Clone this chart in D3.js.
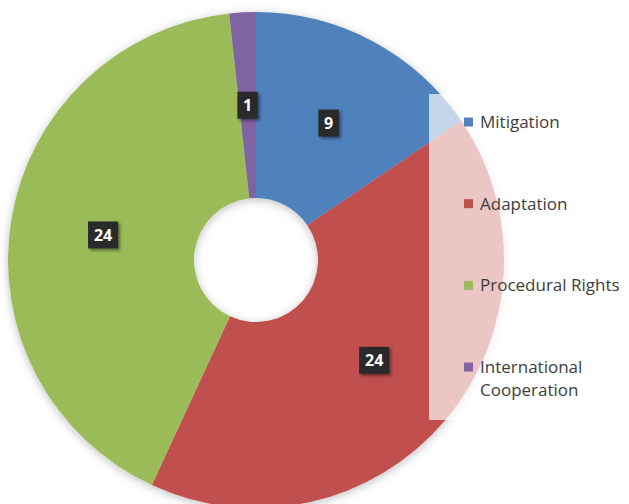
<!DOCTYPE html>
<html>
<head>
<meta charset="utf-8">
<script src="https://cdn.jsdelivr.net/npm/d3@7"></script>
<style>
  body { margin: 0; background: #fff; }
  .legend-text { font-family: "Open Sans", sans-serif; font-size: 17px; fill: #3d3d3d; }
  .label-text { font-family: "Open Sans", sans-serif; font-size: 16px; font-weight: bold; fill: #fff; }
</style>
</head>
<body>
<div id="chart-div"></div>
<script>
const categories = ["Mitigation", "Adaptation", "Procedural Rights", "International Cooperation"];
const legendLines = [["Mitigation"], ["Adaptation"], ["Procedural Rights"], ["International", "Cooperation"]];
const values = [9, 24, 24, 1];
const colors = ["#4f81bd", "#c0504d", "#9bbb59", "#8064a2"];

const svgDims = { width: 629, height: 504 };
const center = { x: 256, y: 260 };
const outerR = 248, innerR = 62;

const svg = d3.select("#chart-div")
    .append("svg")
    .attr("width", svgDims.width)
    .attr("height", svgDims.height);

// soft shadows
const defs = svg.append("defs");
const shadow = defs.append("filter").attr("id", "pie-shadow")
    .attr("x", "-10%").attr("y", "-10%").attr("width", "120%").attr("height", "120%");
shadow.append("feDropShadow").attr("dx", 0).attr("dy", 2).attr("stdDeviation", 5)
    .attr("flood-color", "#000").attr("flood-opacity", 0.25);
const lblShadow = defs.append("filter").attr("id", "lbl-shadow")
    .attr("x", "-30%").attr("y", "-30%").attr("width", "160%").attr("height", "160%");
lblShadow.append("feDropShadow").attr("dx", 2).attr("dy", 2).attr("stdDeviation", 1.5)
    .attr("flood-color", "#000").attr("flood-opacity", 0.45);

const g = svg.append("g").attr("transform", `translate(${center.x},${center.y})`);

const pie = d3.pie().sort(null).value(d => d);
const arcs = pie(values);
const arc = d3.arc().innerRadius(innerR).outerRadius(outerR);

// Slices
g.append("g").attr("filter", "url(#pie-shadow)")
    .selectAll("path").data(arcs).enter().append("path")
    .attr("d", arc)
    .attr("fill", (d, i) => colors[i]);

// Data labels on dark boxes
const labels = g.selectAll(".lbl").data(arcs).enter().append("g")
    .attr("class", "lbl")
    .attr("transform", d => `translate(${arc.centroid(d)})`);

labels.append("rect")
    .attr("x", d => -(String(d.data).length * 9.5 + 11) / 2)
    .attr("y", -13.5)
    .attr("width", d => String(d.data).length * 9.5 + 11)
    .attr("height", 27)
    .attr("fill", "#2b2b2b")
    .attr("filter", "url(#lbl-shadow)");

labels.append("text")
    .attr("class", "label-text")
    .attr("text-anchor", "middle")
    .attr("dy", "0.36em")
    .text(d => d.data);

// Legend with translucent white panel
const legendBox = { x: 429, y: 94, w: 200, h: 326 };
svg.append("rect")
    .attr("x", legendBox.x).attr("y", legendBox.y)
    .attr("width", legendBox.w).attr("height", legendBox.h)
    .attr("fill", "#fff").attr("fill-opacity", 0.68);

const legendY = d3.scalePoint().domain(categories).range([122, 367]);

const items = svg.selectAll(".leg").data(categories).enter().append("g")
    .attr("class", "leg")
    .attr("transform", d => `translate(464,${legendY(d)})`);

items.append("rect")
    .attr("x", 0).attr("y", -4.5)
    .attr("width", 9).attr("height", 9)
    .attr("fill", (d, i) => colors[i]);

items.append("text")
    .attr("class", "legend-text")
    .selectAll("tspan").data((d, i) => legendLines[i]).enter().append("tspan")
    .attr("x", 16)
    .attr("dy", (d, j) => j === 0 ? "0.35em" : "1.35em")
    .text(d => d);
</script>
</body>
</html>
